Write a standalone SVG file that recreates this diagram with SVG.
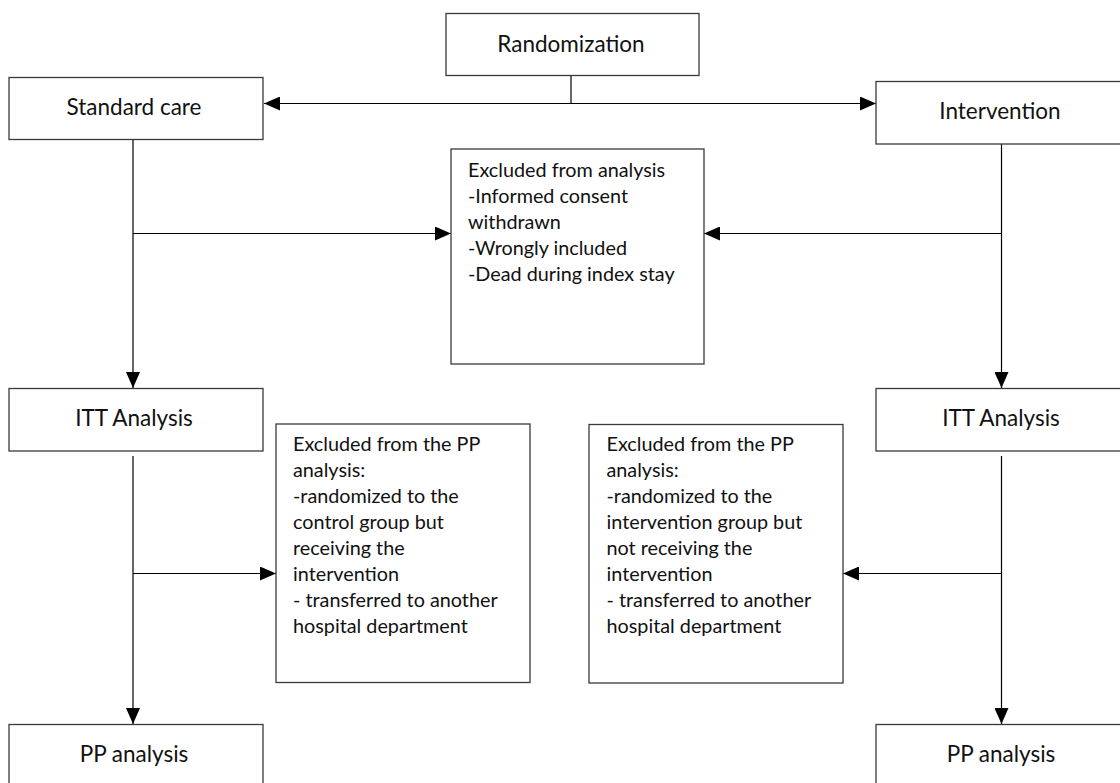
<svg xmlns="http://www.w3.org/2000/svg" width="1120" height="783" viewBox="0 0 1120 783">
<style>
.box{fill:#fff;stroke:#3a3a3a;stroke-width:1.3}
.lbl{font-family:Lato,"Liberation Sans",sans-serif;font-size:22.5px;fill:#111;text-anchor:middle}
.txt{font-family:Lato,"Liberation Sans",sans-serif;font-size:19.8px;fill:#111}
.ln{fill:none;stroke:#000;stroke-width:1.2}
</style>
<defs>
<marker id="ah" viewBox="0 0 16 14" refX="16" refY="7" markerWidth="16" markerHeight="14" markerUnits="userSpaceOnUse" orient="auto">
<path d="M0,0 L16,7 L0,14 Z" fill="#000"/>
</marker>
</defs>
<rect width="1120" height="783" fill="#fff"/>
<g id="connectors">
<line class="ln" x1="571" y1="76" x2="571" y2="103.5"/>
<line class="ln" x1="571" y1="103.5" x2="264" y2="103.5" marker-end="url(#ah)"/>
<line class="ln" x1="571" y1="103.5" x2="876" y2="103.5" marker-end="url(#ah)"/>
<line class="ln" x1="133" y1="139" x2="133" y2="388" marker-end="url(#ah)"/>
<line class="ln" x1="133" y1="233.5" x2="451" y2="233.5" marker-end="url(#ah)"/>
<line class="ln" x1="1001.5" y1="144" x2="1001.5" y2="388" marker-end="url(#ah)"/>
<line class="ln" x1="1001.5" y1="233.5" x2="704" y2="233.5" marker-end="url(#ah)"/>
<line class="ln" x1="133" y1="456" x2="133" y2="724" marker-end="url(#ah)"/>
<line class="ln" x1="133" y1="573.5" x2="276" y2="573.5" marker-end="url(#ah)"/>
<line class="ln" x1="1001.5" y1="456" x2="1001.5" y2="724" marker-end="url(#ah)"/>
<line class="ln" x1="1001.5" y1="573.5" x2="843" y2="573.5" marker-end="url(#ah)"/>
</g>
<g id="randomization">
<rect class="box" x="446" y="13.5" width="253" height="62"/>
<text class="lbl" x="571" y="52">Randomization</text>
</g>
<g id="standard-care">
<rect class="box" x="9" y="77.5" width="254" height="62"/>
<text class="lbl" x="134" y="115">Standard care</text>
</g>
<g id="intervention">
<rect class="box" x="876" y="81.5" width="255" height="62.5"/>
<text class="lbl" x="1000" y="119">Intervention</text>
</g>
<g id="excluded-analysis">
<rect class="box" x="451" y="149" width="253" height="215"/>
<text class="txt" x="468" y="177">Excluded from analysis</text>
<text class="txt" x="468" y="203">-Informed consent</text>
<text class="txt" x="468" y="229">withdrawn</text>
<text class="txt" x="468" y="255">-Wrongly included</text>
<text class="txt" x="468" y="281">-Dead during index stay</text>
</g>
<g id="itt-standard">
<rect class="box" x="9" y="388.5" width="254" height="62.5"/>
<text class="lbl" x="134" y="426">ITT Analysis</text>
</g>
<g id="itt-intervention">
<rect class="box" x="876" y="388.5" width="255" height="62.5"/>
<text class="lbl" x="1001" y="426">ITT Analysis</text>
</g>
<g id="excluded-pp-control">
<rect class="box" x="276" y="424" width="254" height="258.5"/>
<text class="txt" x="293" y="451">Excluded from the PP</text>
<text class="txt" x="293" y="477">analysis:</text>
<text class="txt" x="293" y="503">-randomized to the</text>
<text class="txt" x="293" y="529">control group but</text>
<text class="txt" x="293" y="555">receiving the</text>
<text class="txt" x="293" y="581">intervention</text>
<text class="txt" x="293" y="607">- transferred to another</text>
<text class="txt" x="293" y="633">hospital department</text>
</g>
<g id="excluded-pp-intervention">
<rect class="box" x="589" y="424.5" width="254" height="258.5"/>
<text class="txt" x="606.5" y="451">Excluded from the PP</text>
<text class="txt" x="606.5" y="477">analysis:</text>
<text class="txt" x="606.5" y="503">-randomized to the</text>
<text class="txt" x="606.5" y="529">intervention group but</text>
<text class="txt" x="606.5" y="555">not receiving the</text>
<text class="txt" x="606.5" y="581">intervention</text>
<text class="txt" x="606.5" y="607">- transferred to another</text>
<text class="txt" x="606.5" y="633">hospital department</text>
</g>
<g id="pp-standard">
<rect class="box" x="9" y="724.5" width="254" height="63"/>
<text class="lbl" x="134" y="762">PP analysis</text>
</g>
<g id="pp-intervention">
<rect class="box" x="876" y="724.5" width="255" height="63"/>
<text class="lbl" x="1001" y="762">PP analysis</text>
</g>
</svg>
